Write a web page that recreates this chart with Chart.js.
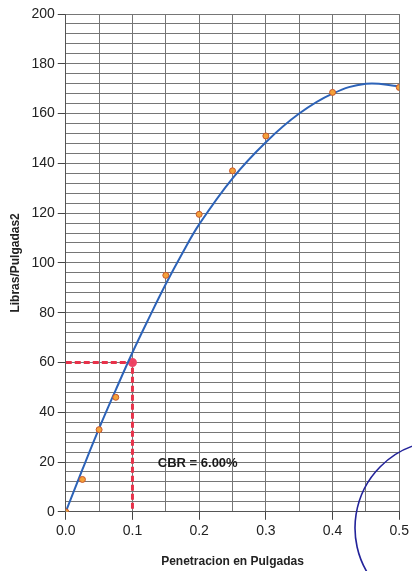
<!DOCTYPE html>
<html lang="es">
<head>
  <meta charset="UTF-8">
  <title>CBR - Penetracion</title>
  <script src="https://cdn.jsdelivr.net/npm/chart.js"></script>
  <style>
    html, body { margin: 0; padding: 0; background: #fff; }
    .wrap { width: 412px; height: 571px; position: relative; }
  </style>
</head>
<body>
  <div class="wrap"><canvas id="cbrChart"></canvas></div>

  <script>
    // ensayo: puntos medidos
    const penetracion = [0, 0.025, 0.05, 0.075, 0.15, 0.2, 0.25, 0.3, 0.4, 0.5];
    const carga = [0, 13, 33, 46, 95, 119.5, 137, 151, 168.5, 170.5];

    // curva de ajuste
    const curvaX = [0, 0.025, 0.05, 0.075, 0.1, 0.125, 0.15, 0.175, 0.2, 0.25, 0.3, 0.35, 0.4, 0.45, 0.5];
    const curvaY = [0, 17, 33.5, 49, 64, 78, 91.5, 104, 115.5, 134, 148.5, 160, 168, 172, 171];

    // lectura CBR
    const cbrX = [0, 0.1, 0.1];
    const cbrY = [60, 60, 0];
    const cbrTexto = 'CBR = 6.00%';

    const xMajor = v => Math.abs(v * 10 - Math.round(v * 10)) < 1e-6;
    const yMajor = v => Math.abs(v % 20) < 1e-6;

    const toPts = (xs, ys) => xs.map((x, i) => ({ x: x, y: ys[i] }));

    // texto CBR y sello azul del escaneo
    const extras = {
      id: 'extras',
      afterDatasetsDraw(chart) {
        const { ctx, scales } = chart;
        ctx.save();
        ctx.font = 'bold 13px "Liberation Sans", Arial, sans-serif';
        ctx.fillStyle = '#1a1a1a';
        ctx.textBaseline = 'middle';
        ctx.fillText(cbrTexto, scales.x.getPixelForValue(0.138), scales.y.getPixelForValue(19.5));
        ctx.restore();
      },
      afterDraw(chart) {
        const ctx = chart.ctx;
        ctx.save();
        ctx.strokeStyle = '#23239a';
        ctx.lineWidth = 1.6;
        ctx.beginPath();
        ctx.arc(442, 528, 87, Math.PI * 0.55, Math.PI * 1.45);
        ctx.stroke();
        ctx.restore();
      }
    };

    const ctx = document.getElementById('cbrChart').getContext('2d');
    new Chart(ctx, {
      type: 'scatter',
      data: {
        datasets: [
          {
            label: 'CBR',
            data: toPts(cbrX, cbrY),
            showLine: true,
            borderColor: '#e8324a',
            borderWidth: 3,
            borderDash: [6, 3],
            pointRadius: [0, 3, 0],
            pointBackgroundColor: 'rgba(240,80,110,0.5)',
            pointBorderColor: '#ee4466',
            order: 3
          },
          {
            label: 'Ajuste',
            data: toPts(curvaX, curvaY),
            showLine: true,
            borderColor: '#2d63b8',
            borderWidth: 2,
            pointRadius: 0,
            tension: 0.4,
            order: 2
          },
          {
            label: 'Ensayo',
            data: toPts(penetracion, carga),
            pointRadius: 3,
            pointBackgroundColor: '#f4a23a',
            pointBorderColor: '#c8562a',
            pointBorderWidth: 1,
            order: 1
          }
        ]
      },
      options: {
        responsive: true,
        maintainAspectRatio: false,
        animation: false,
        layout: { padding: { top: 14, right: 8, left: 8, bottom: 2 } },
        plugins: {
          legend: { display: false },
          tooltip: { enabled: false }
        },
        scales: {
          x: {
            type: 'linear',
            min: 0,
            max: 0.5,
            grid: {
              color: '#767676',
              lineWidth: 1,
              tickLength: 8,
              tickColor: c => xMajor(c.tick.value) ? '#444' : 'rgba(0,0,0,0)'
            },
            border: { color: '#555' },
            ticks: {
              stepSize: 0.05,
              autoSkip: false,
              maxRotation: 0,
              color: '#222',
              font: { family: '"Liberation Sans", Arial, sans-serif', size: 14 },
              callback: v => xMajor(v) ? v.toFixed(1) : ''
            },
            title: {
              display: true,
              text: 'Penetracion en Pulgadas',
              color: '#222',
              font: { family: '"Liberation Sans", Arial, sans-serif', size: 12, weight: 'bold' },
              padding: { top: 12, bottom: 0 }
            }
          },
          y: {
            min: 0,
            max: 200,
            grid: {
              color: '#767676',
              lineWidth: 1,
              tickLength: 8,
              tickColor: c => yMajor(c.tick.value) ? '#444' : 'rgba(0,0,0,0)'
            },
            border: { color: '#555' },
            ticks: {
              stepSize: 4,
              autoSkip: false,
              color: '#222',
              font: { family: '"Liberation Sans", Arial, sans-serif', size: 14 },
              callback: v => yMajor(v) ? v : ''
            },
            title: {
              display: true,
              text: 'Libras/Pulgadas2',
              color: '#222',
              font: { family: '"Liberation Sans", Arial, sans-serif', size: 12, weight: 'bold' },
              padding: { top: 0, bottom: 6 }
            }
          }
        }
      },
      plugins: [extras]
    });
  </script>
</body>
</html>
